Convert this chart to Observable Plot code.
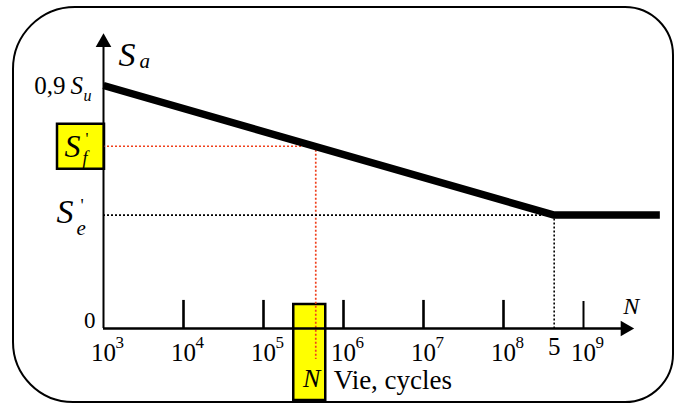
<!DOCTYPE html>
<html>
<head>
<meta charset="utf-8">
<script src="https://cdn.jsdelivr.net/npm/d3@7"></script>
<script src="https://cdn.jsdelivr.net/npm/@observablehq/plot@0.6"></script>
<style>
  html, body { margin: 0; padding: 0; background: white; }
  #chart { width: 675px; height: 404px; }
  #chart svg text { font-family: "Liberation Serif", "Times New Roman", serif; }
</style>
</head>
<body>
<div id="chart"></div>
<script>
// ---- data (Su = 100) ----
const curveN = [1e3, 4.3e8, 9e9];        // cycles
const curveS = [90, 42, 42];             // Sa (0,9 Su -> S'e)
const Nf = 4.5e5;                        // chosen life N
const Sf = 67.5;                         // S'f at N
const Ne = 4.3e8;                        // endurance knee (5 x 10^8 label)
const Se = 42;                           // S'e
const decades = [1e3, 1e4, 1e5, 1e6, 1e7, 1e8, 1e9];
const exponents = ["3", "4", "5", "6", "7", "8", "9"];
const tickDecades = [1e4, 1e5, 1e6, 1e7, 1e8];
const yAxisTop = 109.3;
const xAxisTip = 4.3e9;

const serif = "Liberation Serif";
const red = "#f0401c";
const curve = curveN.map((n, i) => ({n, s: curveS[i]}));
const labels = decades.map((d, i) => ({d, e: exponents[i]}));
const T = (o) => Object.assign({lineAnchor: "bottom", fill: "black", fontFamily: serif}, o);

const chart = Plot.plot({
  width: 675,
  height: 404,
  marginLeft: 103,
  marginRight: 12,
  marginTop: 58,
  marginBottom: 76,
  x: {type: "log", domain: [1e3, 1e10], axis: null},
  y: {domain: [0, 100], axis: null},
  style: {fontFamily: serif, background: "white", overflow: "visible"},
  marks: [
    // dotted guides
    Plot.ruleY([Sf], {x1: 1e3, x2: Nf, stroke: red, strokeWidth: 1.7, strokeDasharray: "2,2"}),
    Plot.ruleX([Nf], {y1: Sf, y2: -11.5, stroke: red, strokeWidth: 1.7, strokeDasharray: "2,2"}),
    Plot.ruleY([Se], {x1: 1e3, x2: Ne, stroke: "black", strokeWidth: 1.6, strokeDasharray: "2,2"}),
    Plot.ruleX([Ne], {y1: Se, y2: 0, stroke: "black", strokeWidth: 1.6, strokeDasharray: "2,2"}),
    // axes
    Plot.ruleX([1e3], {y1: 0, y2: 105, stroke: "black", strokeWidth: 2}),
    Plot.ruleY([0], {x1: 1e3, x2: 3.2e9, stroke: "black", strokeWidth: 2.5}),
    Plot.dot([{x: 1e3, y: yAxisTop}], {x: "x", y: "y", symbol: "triangle", r: 5.8, fill: "black", dy: 9}),
    Plot.dot([{x: xAxisTip, y: 0}], {x: "x", y: "y", symbol: "triangle", r: 5.8, fill: "black", rotate: 90, dx: -9}),
    Plot.ruleX(tickDecades, {y1: 0, y2: 10.4, stroke: "black", strokeWidth: 2.6}),
    Plot.ruleX([1e9], {y1: 0, y2: 10, stroke: "black", strokeWidth: 2}),
    // S-N curve
    Plot.line(curve, {x: "n", y: "s", stroke: "black", strokeWidth: 7.5, strokeLinecap: "butt", strokeLinejoin: "miter"}),
    // tick labels
    Plot.text(labels, T({x: "d", y: 0, text: () => "10", textAnchor: "middle", dx: 0, dy: 32, fontSize: 25})),
    Plot.text(labels, T({x: "d", y: 0, text: "e", textAnchor: "start", dx: 12, dy: 19, fontSize: 17})),
    Plot.text([Ne], T({x: d => d, y: 0, text: () => "5", textAnchor: "middle", dy: 26, fontSize: 25})),
    Plot.text([0], T({x: () => 1e3, y: 0, text: () => "0", textAnchor: "end", dx: -8, dy: -1, fontSize: 23})),
    Plot.text([xAxisTip], T({x: d => d, y: 0, text: () => "N", textAnchor: "start", fontStyle: "italic", dx: -11, dy: -15, fontSize: 24})),
    Plot.text([Nf], T({x: d => d, y: 0, text: () => "N", textAnchor: "middle", fontStyle: "italic", dx: -4, dy: 58, fontSize: 26})),
    Plot.text([Nf], T({x: d => d, y: 0, text: () => "Vie, cycles", textAnchor: "start", dx: 18, dy: 60, fontSize: 27})),
    // y labels
    Plot.text([yAxisTop], T({x: () => 1e3, y: 100, text: () => "S", textAnchor: "start", fontStyle: "italic", dx: 15, dy: 7, fontSize: 34})),
    Plot.text([yAxisTop], T({x: () => 1e3, y: 100, text: () => "a", textAnchor: "start", fontStyle: "italic", dx: 36, dy: 9, fontSize: 21})),
    Plot.text([90], T({x: () => 1e3, y: d => d, text: () => "0,9", textAnchor: "end", dx: -38, dy: 8, fontSize: 25})),
    Plot.text([90], T({x: () => 1e3, y: d => d, text: () => "S", textAnchor: "start", fontStyle: "italic", dx: -33, dy: 8, fontSize: 25})),
    Plot.text([90], T({x: () => 1e3, y: d => d, text: () => "u", textAnchor: "start", fontStyle: "italic", dx: -20, dy: 15, fontSize: 16})),
    Plot.text([Sf], T({x: () => 1e3, y: d => d, text: () => "S", textAnchor: "start", fontStyle: "italic", dx: -39, dy: 11, fontSize: 32})),
    Plot.text([Sf], T({x: () => 1e3, y: d => d, text: () => "f", textAnchor: "start", fontStyle: "italic", dx: -21, dy: 18, fontSize: 18})),
    Plot.text([Sf], T({x: () => 1e3, y: d => d, text: () => "'", textAnchor: "start", dx: -18, dy: -2, fontSize: 16})),
    Plot.text([Se], T({x: () => 1e3, y: d => d, text: () => "S", textAnchor: "start", fontStyle: "italic", dx: -47, dy: 8, fontSize: 34})),
    Plot.text([Se], T({x: () => 1e3, y: d => d, text: () => "e", textAnchor: "start", fontStyle: "italic", dx: -27, dy: 20, fontSize: 21})),
    Plot.text([Se], T({x: () => 1e3, y: d => d, text: () => "'", textAnchor: "start", dx: -23, dy: -3, fontSize: 18}))
  ]
});

// decorations: highlight boxes and rounded frame, placed via the chart scales
const xs = chart.scale("x"), ys = chart.scale("y");
const svg = d3.select(chart);
const first = chart.querySelector("g");
function box(x, y, w, h) {
  const r = document.createElementNS("http://www.w3.org/2000/svg", "rect");
  r.setAttribute("x", x); r.setAttribute("y", y);
  r.setAttribute("width", w); r.setAttribute("height", h);
  r.setAttribute("fill", "#ffff00"); r.setAttribute("stroke", "black"); r.setAttribute("stroke-width", 2.5);
  chart.insertBefore(r, first);
}
const px0 = xs.apply(1e3);
box(px0 - 46, ys.apply(Sf) - 22, 47, 45);
const pn = xs.apply(Nf), py0 = ys.apply(0);
box(pn - 22, py0 - 24, 32, 96);

// rounded frame
const L = 13, Tp = 7, R = 673, B = 402, rTL = 62, rTR = 48, rBR = 48, rBL = 60;
const framePath = `M${L + rTL},${Tp} H${R - rTR} A${rTR},${rTR} 0 0 1 ${R},${Tp + rTR} V${B - rBR} A${rBR},${rBR} 0 0 1 ${R - rBR},${B} H${L + rBL} A${rBL},${rBL} 0 0 1 ${L},${B - rBL} V${Tp + rTL} A${rTL},${rTL} 0 0 1 ${L + rTL},${Tp} Z`;
svg.append("path").attr("d", framePath).attr("fill", "none").attr("stroke", "black").attr("stroke-width", 2);

document.getElementById("chart").appendChild(chart);
</script>
</body>
</html>
